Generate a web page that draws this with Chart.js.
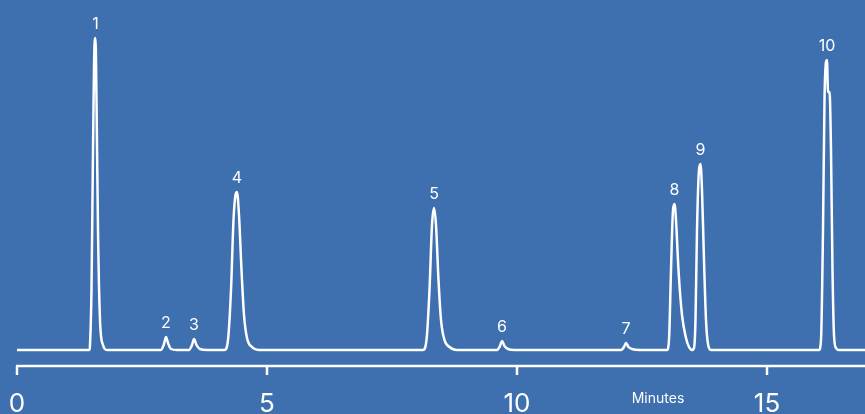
<!DOCTYPE html>
<html><head><meta charset="utf-8">
<script src="https://cdn.jsdelivr.net/npm/chart.js@4"></script>
<style>html,body{margin:0;padding:0;background:#3e6fae;}#w{width:865px;height:414px;}</style>
</head><body><div id="w"><canvas id="c"></canvas></div>
<script>
// Chromatogram trace: [minutes, signal]
const trace = [
[0,0],[1.45,0],
[1.46,5],[1.49,60],[1.52,200],[1.55,305],[1.57,312],[1.59,250],[1.62,120],[1.66,30],[1.72,5],[1.8,0],
[2.88,0],[2.94,6],[2.98,13],[3.02,7],[3.08,1],[3.2,0],
[3.44,0],[3.5,5],[3.54,11],[3.59,5],[3.66,1],[3.8,0],
[4.15,0],[4.22,10],[4.28,60],[4.33,130],[4.37,155],[4.40,158],[4.44,135],[4.49,80],[4.54,35],[4.6,12],[4.7,3],[4.85,0],
[8.12,0],[8.19,10],[8.25,60],[8.3,125],[8.34,142],[8.38,125],[8.43,70],[8.48,30],[8.55,10],[8.65,3],[8.8,0],
[9.6,0],[9.66,4],[9.7,9],[9.75,4],[9.82,1],[9.95,0],
[12.08,0],[12.14,3],[12.18,7],[12.23,3],[12.3,1],[12.45,0],
[13.0,0],[13.04,10],[13.08,80],[13.12,140],[13.15,146],[13.18,130],[13.23,80],[13.3,35],[13.38,12],[13.44,3],[13.5,0],
[13.54,2],[13.57,30],[13.6,120],[13.64,180],[13.67,186],[13.7,160],[13.74,90],[13.78,30],[13.82,6],[13.88,0],
[16.04,0],[16.08,10],[16.12,120],[16.15,250],[16.18,288],[16.2,290],[16.22,258],[16.25,258],[16.28,200],[16.31,80],[16.34,15],[16.38,2],[16.44,0],[17,0]
];
const peakLabels = ["1","2","3","4","5","6","7","8","9","10"];
const peakTimes  = [1.57,2.98,3.54,4.40,8.34,9.7,12.18,13.15,13.67,16.2];
const peakHeights= [312,13,11,158,142,9,7,146,186,290];
const tickValues = [0,5,10,15];
const axisTitle = "Minutes";

const overlay = {
  id:'overlay',
  afterDraw(chart){
    const ctx=chart.ctx, x=chart.scales.x, y=chart.scales.y;
    ctx.save();
    ctx.fillStyle='#fff'; ctx.strokeStyle='#fff';
    ctx.font='16px Inter, sans-serif'; ctx.textAlign='center'; ctx.textBaseline='bottom';
    peakLabels.forEach((l,i)=>ctx.fillText(l, x.getPixelForValue(peakTimes[i]), y.getPixelForValue(peakHeights[i])-6));
    const ay=y.getPixelForValue(-16);
    ctx.lineWidth=2.5;
    ctx.beginPath(); ctx.moveTo(x.getPixelForValue(0)-1,ay); ctx.lineTo(chart.width,ay); ctx.stroke();
    ctx.font='26px Inter, sans-serif'; ctx.textBaseline='alphabetic';
    tickValues.forEach(v=>{const px=x.getPixelForValue(v);
      ctx.beginPath(); ctx.moveTo(px,ay); ctx.lineTo(px,ay+9); ctx.stroke();
      ctx.fillText(String(v), px, 412);});
    ctx.font='14px Inter, sans-serif';
    ctx.fillText(axisTitle, x.getPixelForValue(12.82), 403);
    ctx.restore();
  }
};
new Chart(document.getElementById('c'),{
  type:'line',
  data:{datasets:[{data:trace.map(p=>({x:p[0],y:p[1]})),borderColor:'#fff',borderWidth:2.5,pointRadius:0,cubicInterpolationMode:'monotone',fill:false}]},
  options:{responsive:true,maintainAspectRatio:false,animation:false,
    layout:{padding:0},
    plugins:{legend:{display:false},tooltip:{enabled:false}},
    scales:{x:{type:'linear',display:false,min:-0.34,max:16.96},
            y:{display:false,min:-64,max:350}}},
  plugins:[overlay]
});
</script></body></html>
